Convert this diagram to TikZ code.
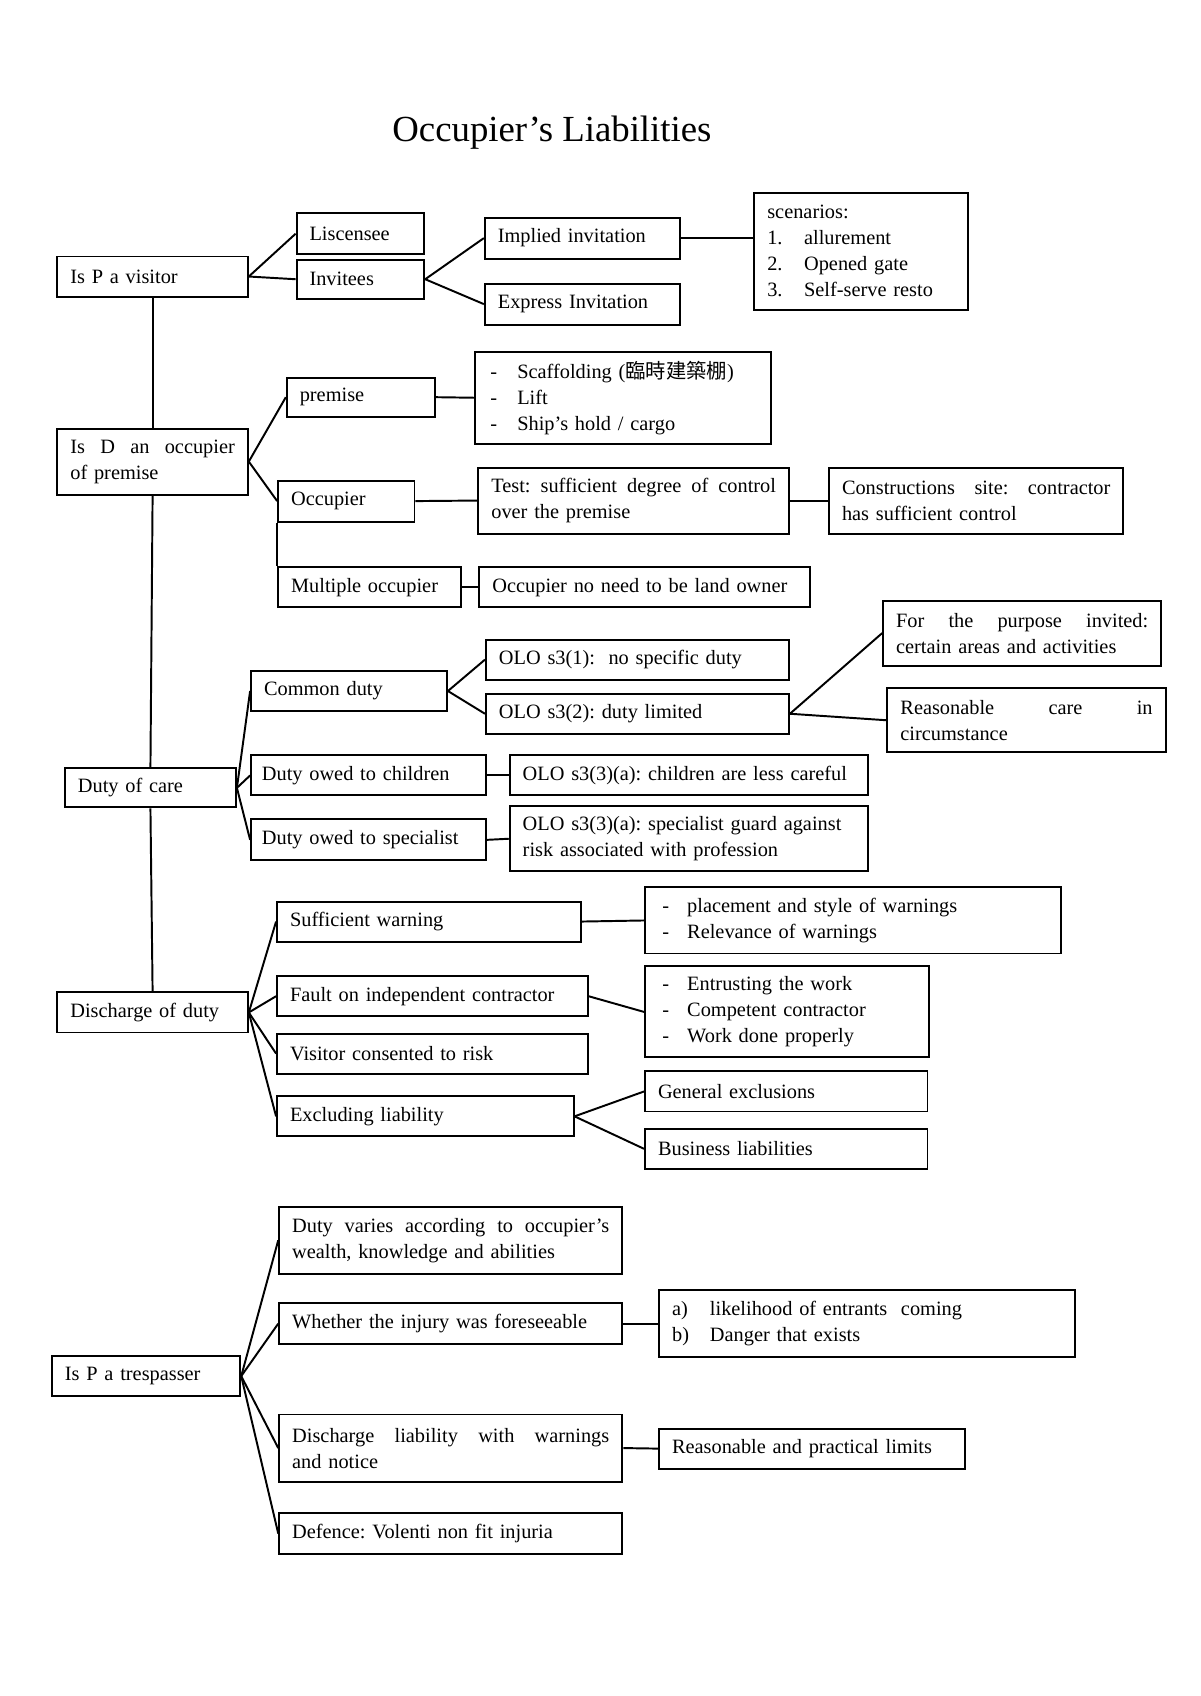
\documentclass[tikz,border=0pt]{standalone}
\usepackage{fontspec}
\setmainfont{Liberation Serif}
\newfontfamily\cjk{Noto Sans CJK TC}
\frenchspacing
\begin{document}
\begin{tikzpicture}[x=1pt, y=-1pt,
  font=\fontsize{18.8pt}{24pt}\selectfont,
  box/.style={rectangle, draw, line width=1.8pt, inner xsep=12pt, inner ysep=0pt, align=left},
  link/.style={line width=1.8pt}]
  \useasboundingbox (0,0) rectangle (1108.8,1567.1);
  % Header
  \node (title) [font=\fontsize{34pt}{40pt}\selectfont] at (510, 123) {Occupier’s Liabilities};
  % Nodes
  \node (visitor) [box, text width=152pt, minimum height=37pt] at (141, 255.5) {Is P a visitor};
  \node (lisc) [box, text width=94pt, minimum height=38pt] at (333, 216) {Liscensee};
  \node (invitees) [box, text width=94pt, minimum height=36pt] at (333, 258) {Invitees};
  \node (implied) [box, text width=156pt, minimum height=38pt] at (538, 220) {Implied invitation};
  \node (express) [box, text width=156pt, minimum height=38pt] at (538, 281) {Express Invitation};
  \node (scenarios) [box, text width=173pt, minimum height=108pt] at (795.5, 232) {scenarios:\\
    \makebox[34pt][l]{1.}allurement\\
    \makebox[34pt][l]{2.}Opened gate\\
    \makebox[34pt][l]{3.}Self-serve resto};
  \node (isD) [box, text width=152pt, minimum height=61pt] at (141, 426.5) {Is\hfill D\hfill an\hfill occupier\\of premise};
  \node (premise) [box, text width=113pt, minimum height=36pt] at (333.5, 367) {premise};
  \node (scaff) [box, inner xsep=14pt, text width=245pt, minimum height=85pt] at (575.5, 367.5) {\makebox[25pt][l]{-}Scaffolding ({\cjk 臨時建築棚})\\
    \makebox[25pt][l]{-}Lift\\
    \makebox[25pt][l]{-}Ship’s hold / cargo};
  \node (occupier) [box, text width=102pt, minimum height=38pt] at (320, 463) {Occupier};
  \node (test) [box, text width=263pt, minimum height=61pt] at (585.5, 462.5) {Test:\hfill sufficient\hfill degree\hfill of\hfill control\\over the premise};
  \node (constr) [box, text width=248pt, minimum height=61pt] at (902, 462.5) {Constructions\hfill site:\hfill contractor\\has sufficient control};
  \node (multiple) [box, text width=145pt, minimum height=37pt] at (341.5, 542.5) {Multiple occupier};
  \node (noneed) [box, text width=281pt, minimum height=37pt] at (595.5, 542.5) {Occupier no need to be land owner};
  \node (dutyCare) [box, text width=134pt, minimum height=36pt] at (139, 728) {Duty of care};
  \node (common) [box, text width=157pt, minimum height=37pt] at (322.5, 638.5) {Common duty};
  \node (oloOne) [box, text width=256pt, minimum height=37pt] at (589, 609.5) {OLO s3(1):\ \ no specific duty};
  \node (oloTwo) [box, text width=256pt, minimum height=37pt] at (589, 659.5) {OLO s3(2): duty limited};
  \node (purpose) [box, text width=233pt, minimum height=60pt] at (944.5, 585) {For\hfill the\hfill purpose\hfill invited:\\certain areas and activities};
  \node (reasonable) [box, text width=233pt, minimum height=59pt] at (948.5, 665.5) {Reasonable\hfill care\hfill in\\circumstance};
  \node (children) [box, inner xsep=10pt, text width=197pt, minimum height=37pt] at (340.5, 716.5) {Duty owed to children};
  \node (oloChild) [box, text width=307pt, minimum height=37pt] at (636.5, 716.5) {OLO s3(3)(a): children are less careful};
  \node (specialist) [box, inner xsep=10pt, text width=197pt, minimum height=38pt] at (340.5, 776) {Duty owed to specialist};
  \node (oloSpec) [box, text width=307pt, minimum height=60pt] at (636.5, 775) {OLO s3(3)(a): specialist guard against\\risk associated with profession};
  \node (discharge) [box, text width=152pt, minimum height=37pt] at (141, 935.5) {Discharge of duty};
  \node (warning) [box, text width=257pt, minimum height=37pt] at (396.5, 851.5) {Sufficient warning};
  \node (placement) [box, inner xsep=16pt, text width=352pt, minimum height=61pt] at (788, 850.5) {\makebox[23pt][l]{-}placement and style of warnings\\
    \makebox[23pt][l]{-}Relevance of warnings};
  \node (fault) [box, text width=263pt, minimum height=37pt] at (399.5, 920.5) {Fault on independent contractor};
  \node (entrust) [box, inner xsep=16pt, text width=230pt, minimum height=84pt] at (727, 935) {\makebox[23pt][l]{-}Entrusting the work\\
    \makebox[23pt][l]{-}Competent contractor\\
    \makebox[23pt][l]{-}Work done properly};
  \node (consent) [box, text width=263pt, minimum height=37pt] at (399.5, 973.5) {Visitor consented to risk};
  \node (exclude) [box, text width=250pt, minimum height=37pt] at (393, 1031.5) {Excluding liability};
  \node (general) [box, text width=237pt, minimum height=37pt] at (726.5, 1008.5) {General exclusions};
  \node (business) [box, text width=237pt, minimum height=37pt] at (726.5, 1061.5) {Business liabilities};
  \node (trespasser) [box, text width=150pt, minimum height=37pt] at (135, 1271.5) {Is P a trespasser};
  \node (varies) [box, text width=293pt, minimum height=62pt] at (416.5, 1146) {Duty\hfill varies\hfill according\hfill to\hfill occupier’s\\wealth, knowledge and abilities};
  \node (foresee) [box, text width=293pt, minimum height=38pt] at (416.5, 1223) {Whether the injury was foreseeable};
  \node (ab) [box, text width=360pt, minimum height=62pt] at (801, 1223) {\makebox[35pt][l]{a)}likelihood of entrants\ \ coming\\
    \makebox[35pt][l]{b)}Danger that exists};
  \node (notice) [box, text width=293pt, minimum height=62pt] at (416.5, 1338) {Discharge\hfill liability\hfill with\hfill warnings\\and notice};
  \node (limits) [box, text width=259pt, minimum height=37pt] at (750.5, 1338.5) {Reasonable and practical limits};
  \node (defence) [box, text width=293pt, minimum height=38pt] at (416.5, 1417) {Defence: Volenti non fit injuria};
  % Lines
  \draw[link] (visitor.south) -- (isD.north);
  \draw[link] (isD.south) -- (dutyCare.north);
  \draw[link] (dutyCare.south) -- (discharge.north);
  \draw[link] (visitor.east) -- (lisc.west);
  \draw[link] (visitor.east) -- (invitees.west);
  \draw[link] (invitees.east) -- (implied.west);
  \draw[link] (invitees.east) -- (express.west);
  \draw[link] (implied.east) -- (implied.east -| scenarios.west);
  \draw[link] (isD.east) -- (premise.west);
  \draw[link] (isD.east) -- (occupier.west);
  \draw[link] (occupier.south west) -- (multiple.north west);
  \draw[link] (premise.east) -- (scaff.west);
  \draw[link] (occupier.east) -- (test.west);
  \draw[link] (test.east) -- (constr.west);
  \draw[link] (multiple.east) -- (noneed.west);
  \draw[link] (dutyCare.east) -- (common.west);
  \draw[link] (dutyCare.east) -- (children.west);
  \draw[link] (dutyCare.east) -- (specialist.west);
  \draw[link] (common.east) -- (oloOne.west);
  \draw[link] (common.east) -- (oloTwo.west);
  \draw[link] (oloTwo.east) -- (purpose.west);
  \draw[link] (oloTwo.east) -- (reasonable.west);
  \draw[link] (children.east) -- (oloChild.west);
  \draw[link] (specialist.east) -- (oloSpec.west);
  \draw[link] (discharge.east) -- (warning.west);
  \draw[link] (discharge.east) -- (fault.west);
  \draw[link] (discharge.east) -- (consent.west);
  \draw[link] (discharge.east) -- (exclude.west);
  \draw[link] (warning.east) -- (placement.west);
  \draw[link] (fault.east) -- (entrust.west);
  \draw[link] (exclude.east) -- (general.west);
  \draw[link] (exclude.east) -- (business.west);
  \draw[link] (trespasser.east) -- (varies.west);
  \draw[link] (trespasser.east) -- (foresee.west);
  \draw[link] (trespasser.east) -- (notice.west);
  \draw[link] (trespasser.east) -- (defence.west);
  \draw[link] (foresee.east) -- (ab.west);
  \draw[link] (notice.east) -- (limits.west);
\end{tikzpicture}
\end{document}
